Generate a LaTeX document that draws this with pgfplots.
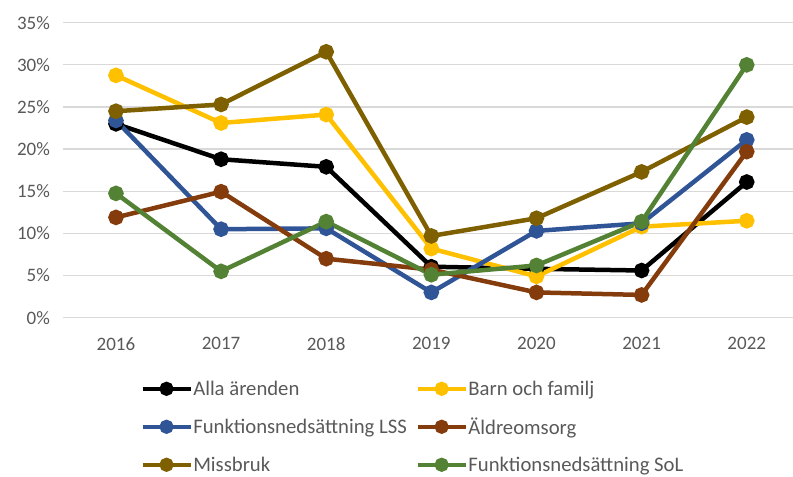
\documentclass[border=0pt]{standalone}
\usepackage{fontspec}
\setmainfont{Carlito}
\usepackage{pgfplots}
\pgfplotsset{compat=1.18}
\definecolor{cAlla}{HTML}{000000}
\definecolor{cBarn}{HTML}{FFC000}
\definecolor{cLSS}{HTML}{2F5597}
\definecolor{cAld}{HTML}{843C0C}
\definecolor{cMiss}{HTML}{7F6000}
\definecolor{cSoL}{HTML}{548235}
\definecolor{txt}{HTML}{595959}
\definecolor{grd}{HTML}{D9D9D9}
\newcommand{\chartfont}{\fontsize{19bp}{23bp}\selectfont}
\newcommand{\legfont}{\fontsize{20.7bp}{24bp}\selectfont}
\begin{document}
\begin{tikzpicture}
\useasboundingbox (-63.4bp,-159.3bp) rectangle (729.6bp,317.7bp);
\begin{axis}[
  at={(0,0)}, anchor=south west,
  scale only axis, width=729.6bp, height=295bp,
  xmin=-0.5, xmax=6.44, ymin=0, ymax=35,
  xtick={0,...,6},
  xticklabels={2016,2017,2018,2019,2020,2021,2022},
  ytick={0,5,...,35},
  yticklabel={\pgfmathprintnumber{\tick}\%},
  /pgf/number format/assume math mode=true,
  axis line style={draw=none},
  tick style={draw=none},
  ymajorgrids, grid style={color=grd, line width=1.3bp},
  tick label style={font=\chartfont, text=txt},
  yticklabel style={xshift=-10bp},
  xticklabel style={yshift=-16bp},
  clip=false,
  legend columns=2,
  legend cell align=left,
  legend style={draw=none, fill=none, font=\legfont, text=txt,
    at={(0.101,-0.205)}, anchor=north west,
    nodes={inner sep=0.5bp},
    row sep=20bp,
    /tikz/every even column/.append style={column sep=8bp}},
  legend image code/.code={\draw[mark repeat=2,mark phase=2,#1,mark size=4.8bp] plot coordinates {(0bp,0bp)(24bp,0bp)(48bp,0bp)};},
  every axis plot/.append style={line width=4.5bp, mark=*, mark size=5.5bp},
]
\addplot[color=cAlla, mark options={draw=none, fill=cAlla}] coordinates {(0,23.0)(1,18.8)(2,17.9)(3,6.05)(4,5.8)(5,5.6)(6,16.1)};
\addlegendentry{Alla ärenden}
\addplot[color=cBarn, mark options={draw=none, fill=cBarn}] coordinates {(0,28.75)(1,23.1)(2,24.1)(3,8.2)(4,4.9)(5,10.8)(6,11.5)};
\addlegendentry{Barn och familj}
\addplot[color=cLSS, mark options={draw=none, fill=cLSS}] coordinates {(0,23.4)(1,10.5)(2,10.6)(3,3.0)(4,10.3)(5,11.2)(6,21.1)};
\addlegendentry{Funktionsnedsättning LSS}
\addplot[color=cAld, mark options={draw=none, fill=cAld}] coordinates {(0,11.9)(1,14.95)(2,7.0)(3,5.7)(4,3.0)(5,2.7)(6,19.7)};
\addlegendentry{Äldreomsorg}
\addplot[color=cMiss, mark options={draw=none, fill=cMiss}] coordinates {(0,24.5)(1,25.3)(2,31.55)(3,9.7)(4,11.8)(5,17.3)(6,23.8)};
\addlegendentry{Missbruk}
\addplot[color=cSoL, mark options={draw=none, fill=cSoL}] coordinates {(0,14.75)(1,5.5)(2,11.4)(3,5.1)(4,6.2)(5,11.4)(6,30.0)};
\addlegendentry{Funktionsnedsättning SoL}
\end{axis}
\end{tikzpicture}
\end{document}
